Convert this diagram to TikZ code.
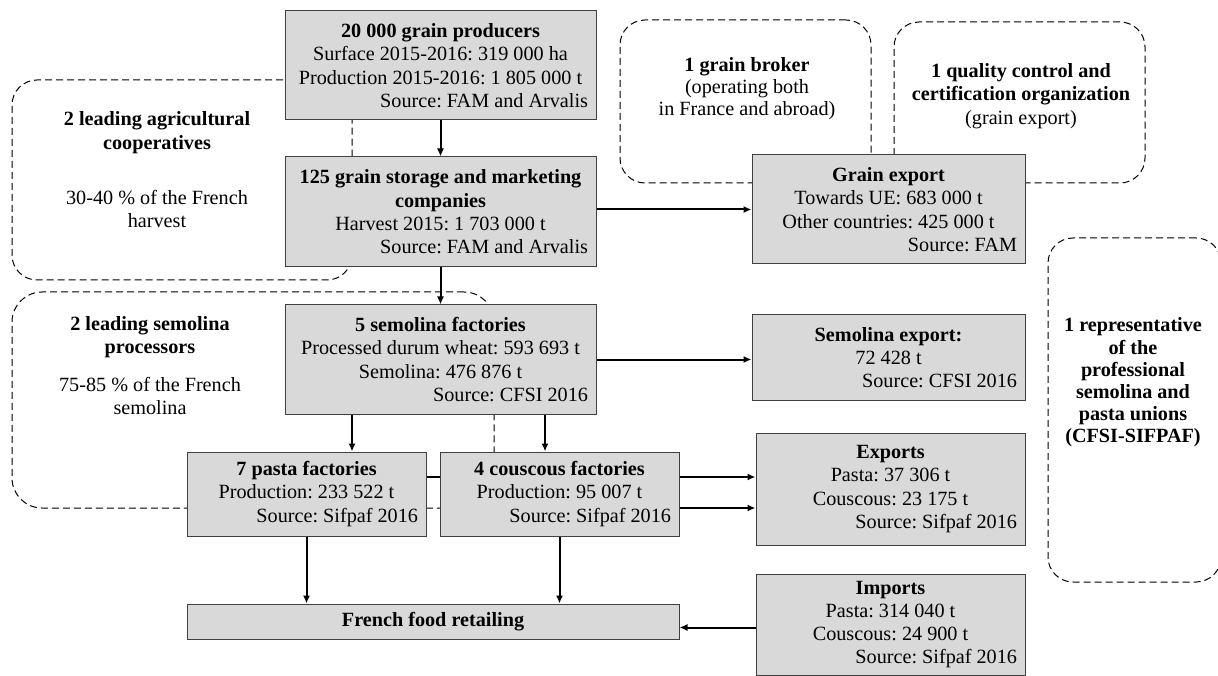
\documentclass[tikz,border=0pt]{standalone}
\usepackage{fontspec}
\setmainfont{Liberation Serif}
\usepackage{tikz}
\usetikzlibrary{arrows.meta}
\frenchspacing
\definecolor{boxfill}{HTML}{D9D9D9}
\definecolor{boxdraw}{HTML}{404040}
\tikzstyle{line} = [draw, line width=2pt, -{Latex[length=8pt,width=7pt]}]
\tikzstyle{block} = [rectangle, draw=boxdraw, line width=1pt, fill=boxfill, align=flush center, inner xsep=8pt, inner ysep=0pt, font=\fontsize{20.2}{23.3}\selectfont]
\tikzstyle{group} = [rectangle, draw, dash pattern=on 7pt off 4pt, line width=1pt, rounded corners=25pt, inner sep=0pt]
\tikzstyle{grouptext} = [align=center, inner sep=0pt, font=\fontsize{20.2}{23.3}\selectfont]

\begin{document}
\begin{tikzpicture}[x=1pt, y=-1pt]
\useasboundingbox (0,0) rectangle (1218,676);
\clip (0,0) rectangle (1218,676);

% dashed groups
\node [group, minimum width=340pt, minimum height=200pt] (coop) at (182,180) {};
\node [group, minimum width=482pt, minimum height=216pt, rounded corners=30pt] (semgrp) at (253,400) {};
\node [group, minimum width=251pt, minimum height=163pt] (broker) at (745.5,101.5) {};
\node [group, minimum width=251pt, minimum height=161pt] (quality) at (1019.5,102.5) {};
\node [group, minimum width=173pt, minimum height=344pt] (rep) at (1134.5,410) {};

\node [grouptext] (cooptxt) at (157,170) {\textbf{2 leading agricultural}\\\textbf{cooperatives}\\[32pt]30-40 \% of the French\\harvest};
\node [grouptext] (semtxt) at (150,365.5) {\textbf{2 leading semolina}\\\textbf{processors}\\[14pt]75-85 \% of the French\\semolina};
\node [grouptext, font=\fontsize{20.2}{22}\selectfont] (brokertxt) at (747,89) {\textbf{1 grain broker}\\(operating both\\in France and abroad)};
\node [grouptext] (qualtxt) at (1021,96) {\textbf{1 quality control and}\\\textbf{certification organization}\\(grain export)};
\node [grouptext, font=\fontsize{20.2}{22.2}\selectfont] (reptxt) at (1133,382.5) {\textbf{1 representative}\\\textbf{of the}\\\textbf{professional}\\\textbf{semolina and}\\\textbf{pasta unions}\\\textbf{(CFSI-SIFPAF)}};

% main chain
\node [block, text width=295pt, minimum height=109pt] (prod) at (440.5,65.5) {\textbf{20 000 grain producers}\\Surface 2015-2016: 319 000 ha\\Production 2015-2016: 1 805 000 t\\\hspace*{\fill}Source: FAM and Arvalis};
\node [block, text width=295pt, minimum height=110pt, below of=prod, node distance=146.5pt] (store) {\textbf{125 grain storage and marketing}\\\textbf{companies}\\Harvest 2015: 1 703 000 t\\\hspace*{\fill}Source: FAM and Arvalis};
\node [block, text width=295pt, minimum height=109pt, below of=store, node distance=147.5pt] (semo) {\textbf{5 semolina factories}\\Processed durum wheat: 593 693 t\\Semolina: 476 876 t\\\hspace*{\fill}Source: CFSI 2016};

\node [block, text width=257pt, minimum height=109pt] (gexp) at (888.5,209.5) {\textbf{Grain export}\\Towards UE: 683 000 t\\Other countries: 425 000 t\\\hspace*{\fill}Source: FAM};
\node [block, text width=257pt, minimum height=85pt] (sexp) at (888.5,357.5) {\textbf{Semolina export:}\\72 428 t\\\hspace*{\fill}Source: CFSI 2016};

\node [block, text width=223pt, minimum height=84pt] (pasta) at (306.5,494) {\textbf{7 pasta factories}\\Production: 233 522 t\\\hspace*{\fill}Source: Sifpaf 2016};
\node [block, text width=253pt, minimum height=112pt] (exps) at (890.5,489) {\textbf{Exports}\\Pasta: 37 306 t\\Couscous: 23 175 t\\\hspace*{\fill}Source: Sifpaf 2016};
\path [line] ([yshift=17pt]pasta.east) to ([yshift=17pt]pasta.east -| exps.west);
\node [block, text width=223pt, minimum height=84pt] (cous) at (559.5,494) {\textbf{4 couscous factories}\\Production: 95 007 t\\\hspace*{\fill}Source: Sifpaf 2016};
\path [line] ([yshift=-14pt]cous.east) to ([yshift=-14pt]cous.east -| exps.west);

\node [block, minimum width=492pt, minimum height=35pt] (retail) at (433,621.5) {\textbf{French food retailing}};
\node [block, text width=253pt, minimum height=101pt] (imps) at (890.5,624.5) {\textbf{Imports}\\Pasta: 314 040 t\\Couscous: 24 900 t\\\hspace*{\fill}Source: Sifpaf 2016};

\path [line] (prod) to (store);
\path [line] (store) to (semo);
\path [line] (store.east |- gexp) to (gexp.west);
\path [line] (semo.east) to (semo.east -| sexp.west);
\path [line] ([xshift=-88.5pt]semo.south) to ([xshift=-88.5pt]semo.south |- pasta.north);
\path [line] ([xshift=104.5pt]semo.south) to ([xshift=104.5pt]semo.south |- cous.north);
\path [line] (pasta) to (pasta |- retail.north);
\path [line] (cous) to (cous |- retail.north);
\path [line] ([yshift=-6pt]retail.east -| imps.west) to ([yshift=-6pt]retail.east);

\end{tikzpicture}
\end{document}
